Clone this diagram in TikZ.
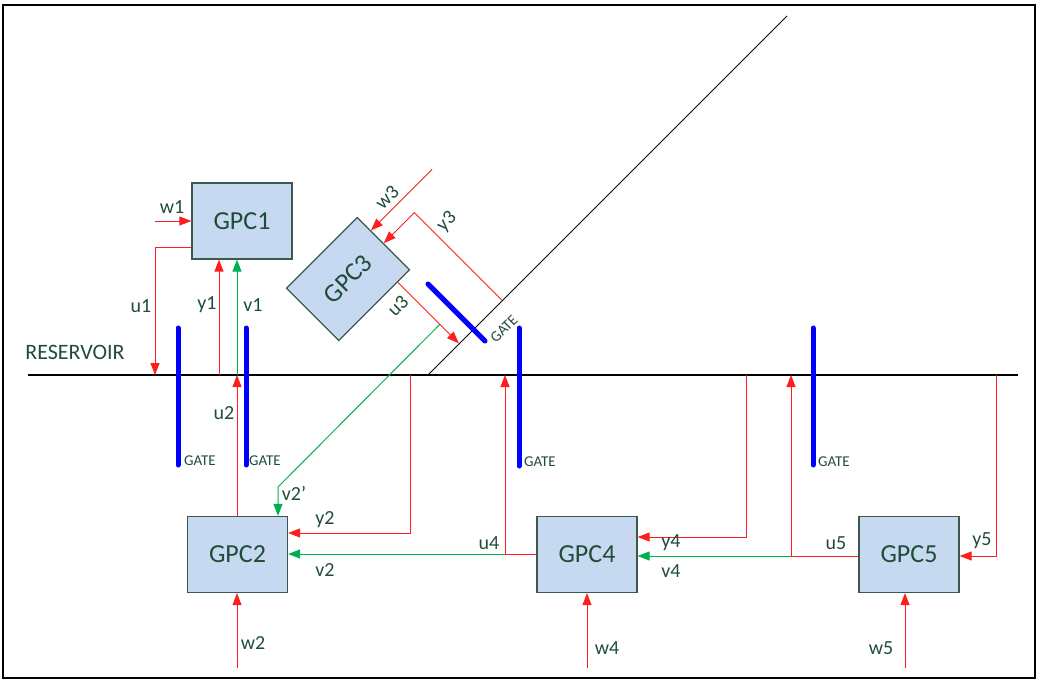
\documentclass[tikz,border=0pt]{standalone}
\usepackage{fontspec}
\setmainfont{Carlito}
\usetikzlibrary{arrows.meta,calc}
\definecolor{txtc}{RGB}{31,77,55}
\definecolor{boxfill}{RGB}{198,217,240}
\definecolor{boxline}{RGB}{60,90,75}
\definecolor{gatec}{RGB}{0,0,255}
\definecolor{linered}{RGB}{255,30,30}
\definecolor{linegreen}{RGB}{0,176,80}
\tikzset{
  gpc/.style={draw=boxline, line width=1.2pt, fill=boxfill, minimum width=100pt, minimum height=76pt, inner sep=0pt, text=txtc, font=\fontsize{26}{30}\selectfont},
  lbl/.style={text=txtc, inner sep=0pt, font=\fontsize{20}{24}\selectfont},
  gatelbl/.style={text=txtc, inner sep=0pt, anchor=west, font=\fontsize{15}{18}\selectfont},
  arr/.style={draw=linered, line width=1pt, -{Triangle[length=12pt,width=9pt]}, color=linered},
  rline/.style={draw=linered, line width=1pt},
  garr/.style={draw=linegreen, line width=1pt, -{Triangle[length=12pt,width=9pt]}, color=linegreen},
  gline/.style={draw=linegreen, line width=1pt},
  gatebar/.style={draw=gatec, line width=5pt, line cap=round},
}
\begin{document}
\begin{tikzpicture}[x=1pt,y=-1pt]
\useasboundingbox (0,0) rectangle (1041,681);
\draw[line width=2pt] (3,5) rectangle (1035,678);

% reservoir and dam lines
\coordinate (r1) at (28,375);
\coordinate (r2) at (1018,375);
\draw[line width=1.2pt] (r1) -- (r2);
\coordinate (d1) at (428,375);
\coordinate (d2) at (787,16);
\draw[line width=1pt] (d1) -- (d2);
\node[lbl, font=\fontsize{22}{26}\selectfont] (res) at (75,352) {RESERVOIR};

% boxes
\node[gpc] (g1) at (242,221) {GPC1};
\node[gpc] (g2) at (237.5,554.5) {GPC2};
\node[gpc] (g4) at (587,554.5) {GPC4};
\node[gpc] (g5) at (909,554.5) {GPC5};
\node[gpc, minimum height=74pt, rotate=45] (g3) at (348,279) {GPC3};

% GPC1 connections
\coordinate (w1s) at (155,221);
\draw[arr] (w1s) -- (g1.west);
\coordinate (u1c) at (155,247);
\coordinate (u1e) at (155,375);
\draw[arr] (g1.west |- u1c) -- (u1c) -- (u1e);
\coordinate (y1s) at (219,375);
\draw[arr] (y1s) -- (y1s |- g1.south);
\coordinate (v1s) at (237,375);
\draw[garr] (v1s) -- (v1s |- g1.south);

% GPC2 connections
\draw[arr] (v1s |- g2.north) -- (v1s);
\coordinate (w2s) at (237,668);
\draw[arr] (w2s) -- (w2s |- g2.south);
\coordinate (y2s) at (410,375);
\coordinate (y2c) at (410,533);
\draw[arr] (y2s) -- (y2c) -- (y2c -| g2.east);

% GPC4 connections
\coordinate (u4c) at (505,554);
\coordinate (u4e) at (505,375);
\draw[garr] (u4c) -- (u4c -| g2.east);
\draw[arr] (g4.west |- u4c) -- (u4c) -- (u4e);
\coordinate (y4s) at (746,375);
\coordinate (y4c) at (746,537);
\draw[arr] (y4s) -- (y4c) -- (y4c -| g4.east);
\coordinate (w4s) at (587,668);
\draw[arr] (w4s) -- (w4s |- g4.south);

% GPC5 connections
\coordinate (u5c) at (791,556);
\coordinate (u5e) at (791,375);
\draw[garr] (u5c) -- (u5c -| g4.east);
\draw[arr] (g5.west |- u5c) -- (u5c) -- (u5e);
\coordinate (y5s) at (996,375);
\coordinate (y5c) at (996,556);
\draw[arr] (y5s) -- (y5c) -- (y5c -| g5.east);
\coordinate (w5s) at (905,668);
\draw[arr] (w5s) -- (w5s |- g5.south);

% GPC3 connections
\coordinate (w3t) at ($(g3.north east)!0.26!(g3.south east)$);
\coordinate (w3s) at ($(w3t)+(61,-61)$);
\draw[arr] (w3s) -- (w3t);
\coordinate (y3t) at ($(g3.north east)!0.5!(g3.south east)$);
\coordinate (y3c) at ($(y3t)+(30.6,-30.6)$);
\coordinate (y3s) at ($(y3c)+(87.5,87.5)$);
\draw[arr] (y3s) -- (y3c) -- (y3t);
\coordinate (u3s) at ($(g3.south east)!0.175!(g3.south west)$);
\coordinate (u3t) at ($(u3s)+(61,61)$);
\draw[arr] (u3s) -- (u3t);
\coordinate (v2b) at ($(u3s)+(42,42)$);
\coordinate (v2k) at (278,487);
\draw[garr] (v2b) -- (v2k) -- (v2k |- g2.north);

% gates
\draw[gatebar] (178,328) -- (178,465);
\node[gatelbl] (gl1) at (184,461) {GATE};
\draw[gatebar] (246,328) -- (246,465);
\node[gatelbl] (gl2) at (249,461) {GATE};
\draw[gatebar] (519,328) -- (519,466);
\node[gatelbl] (gl3) at (524,462) {GATE};
\draw[gatebar] (813,328) -- (813,465);
\node[gatelbl] (gl4) at (818,462) {GATE};
\draw[gatebar] (428,284) -- (485,341);
\node[gatelbl, anchor=center, rotate=45] (gl5) at (504,329) {GATE};

% labels
\node[lbl] (lw1) at (172,207) {w1};
\node[lbl] (lu1) at (141,306) {u1};
\node[lbl] (ly1) at (207,305) {y1};
\node[lbl] (lv1) at (253,305) {v1};
\node[lbl] (lu2) at (224,413) {u2};
\node[lbl] (lv2p) at (294,493) {v2'};
\node[lbl] (ly2) at (325,520) {y2};
\node[lbl] (lv2) at (325,570) {v2};
\node[lbl] (lw2) at (253,643) {w2};
\node[lbl] (lu4) at (489,543) {u4};
\node[lbl] (ly4) at (671,543) {y4};
\node[lbl] (lv4) at (671,571) {v4};
\node[lbl] (lw4) at (607,648) {w4};
\node[lbl] (lu5) at (836,543) {u5};
\node[lbl] (ly5) at (982,541) {y5};
\node[lbl] (lw5) at (881,648) {w5};
\node[lbl, rotate=45] (lw3) at (387,197) {w3};
\node[lbl, rotate=45] (ly3) at (447,222) {y3};
\node[lbl, rotate=45] (lu3) at (398,306) {u3};
\end{tikzpicture}
\end{document}
